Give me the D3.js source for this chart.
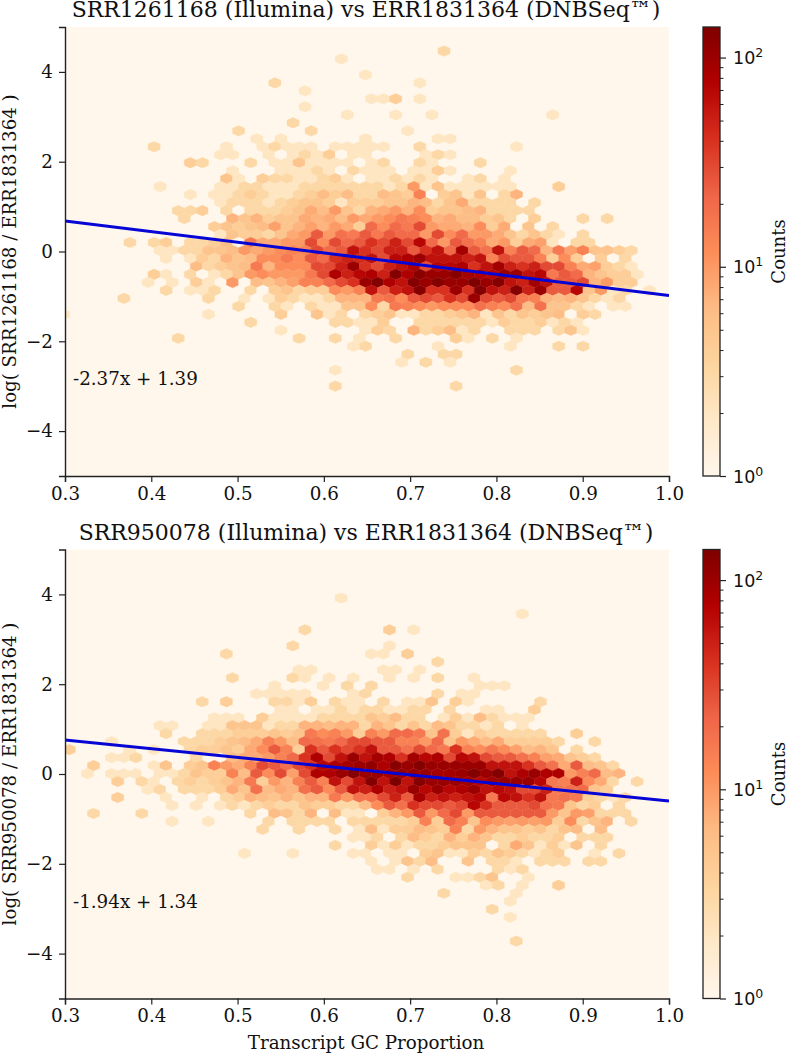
<!DOCTYPE html>
<html><head><meta charset="utf-8">
<script src="https://cdnjs.cloudflare.com/ajax/libs/d3/7.8.5/d3.min.js"></script>
<style>html,body{margin:0;padding:0;background:#fff}svg{display:block}text{font-family:"DejaVu Serif",serif;fill:#111}</style>
</head><body><svg id="c" width="787" height="1054"></svg>
<script>
// Hexbin counts. Each row: segments [firstColumnIndex, count, count, ...] (columns advance by 2).
const topRows = [
[[63,3]],[[46,2]],[],[[50,2]],[[35,3],[59,2]],[[40,2]],[[51,2,2,4],[59,2]],[[40,2]],[[47,2],[55,2],[61,2],[81,2]],[[38,3]],
[[29,3],[41,3],[57,2]],[[32,2],[36,2],[50,2],[62,2,2]],[[15,3],[27,2],[33,2,3,2,2,2],[45,2,2,2,2,2],[59,3],[75,2]],
[[26,2,2],[34,2,1,2,3,2,4,1,2,2],[60,2,3,2]],
[[21,4,3],[31,3],[35,2,2,5,2,2,2,2,1,2,3],[59,3,2],[69,3]],
[[28,2],[34,1,2,2,2,3,2,1,3,2,2,2],[58,2,2,4,2],[74,2]],
[[27,5,2],[33,4,3,3,2,2,3,4,2,1,2,2,3,2,3,2],[67,2,3],[73,2]],
[[16,2],[26,2,2,3,3,2,2,2,3,3,3,3,3,3,3,2,3,10,2,5,2,2,2,2,2,2],[82,4]],
[[21,2],[25,2,2,3,4,3,2,2,3,4,6,4,6,3,3,6,5,4,14,1,4,5,2,5,1,3,7]],
[[26,2,3,3,3,2,3,4,5,5,4,2,4,4,4,5,5,7,6,3,5,8,3,3,3,3,1,3]],
[[19,3,3,4,1,3,1,3,3,3,4,5,8,6,10,5,3,7,8,10,7,12,4,5,5,6,7,3,3,3,3]],
[[20,3],[28,7,5,7,4,5,5,8,7,8,6,10,8,10,12,16,14,12,7,8,6,6,4,5,3,1,4],[86,3],[90,3]],
[[23,1,4,5,4,5,6,9,5,7,9,7,10,8,4,20,12,20,16,30,10,8,8,7,12,4,8,1,5,1,3]],
[[26,2,5,4,4,3,5,8,10,25,10,18,16,25,16,25,20,20,10,30,12,20,10,10,8,5,3,5,3,2],[86,3]],
[[11,3],[15,3,4,1,3,3,4,6,1,16,8,8,10,10,30,12,30,20,25,40,30,50,30,70,20,10,25,18,14,8,10,4,8,9,2,1,3,3]],
[[16,2,2,3,3,5,5,6,10,8,10,12,14,14,30,20,25,60,40,30,50,50,25,40,60,20,90,25,18,60,14,25,20,7,16,9,14,5,5,4,3]],
[[17,2,1,2,4,3,7,5,6,12,12,16,12,25,20,40,50,45,60,30,70,80,100,60,60,60,50,60,14,30,25,25,14,4,12,4,1,4,1,3]],
[[22,6,3,4,5,6,16,7,12,12,12,30,30,50,100,40,30,50,60,80,30,70,70,80,40,60,90,50,40,50,30,30,14,8,9,4,3,2]],
[[15,4,2,1,3,1,2,3,5,10,12,10,10,10,16,30,80,50,70,80,50,130,80,125,100,100,125,90,80,70,100,100,60,70,16,25,20,7,5,4,4,2]],
[[14,2],[18,2],[22,4,2],[28,10,1,6,5,7,9,14,14,20,30,40,100,130,80,60,130,100,130,100,100,140,100,130,60,50,90,60,25,25,30,7,10,4,4]],
[[17,3],[21,2,2,3],[31,3,1,4,5,3,4,4,12,10,14,60,25,50,60,130,40,40,100,40,130,60,50,130,50,100,25,25,70,5,10,2,3],[97,2]],
[[10,3],[24,3],[30,2,1,2,4,3,2,2,3,7,7,7,16,18,12,25,30,25,40,30,100,30,25,30,16,14,7,6,7,5,3,2,3]],
[[29,3],[35,3,2],[41,3,2,2,5,5,12,3,16,14,12,10,12,12,12,18,14,12,18,6,18,5,5,3,2,1,2,2]],
[[0,2],[24,2],[36,4],[42,5,2,3,1,3,4,5,2,2,3,3,4,5,7,2,5,3,5,4,5,6,1,4,3]],
[[31,3],[45,3,3,2,2,4,1,1,3,3,3,3,3,3,2,4,3,3,4,2,3,2]],
[[36,2],[50,2,4,3,0,7,3,4,6,2,3],[74,3,3,3],[82,3,5,2]],
[[19,3],[39,3],[45,3],[49,2],[55,3],[65,4,2],[71,3],[75,2]],
[[48,2,3],[62,2],[74,2],[82,3],[86,3]],
[[57,3],[63,3,3]],[[56,2],[60,3],[64,2]],[[45,2],[75,3]],[],[[45,3],[65,3]]
];
const bottomRows = [
[[46,2]],[],[[76,2]],[],[[40,3],[54,4],[58,2]],[],[[38,3],[54,2]],[[27,3],[51,2,2],[57,4]],[[62,3]],[[39,2,2],[53,2,2],[59,2]],
[[28,3],[38,3,2],[44,2],[48,2],[54,2],[58,2],[62,3],[68,2]],
[[35,2],[43,2],[47,3],[51,3],[69,2,2,2]],
[[32,2,2,2,2,2],[48,2,3],[62,3],[66,2,2]],
[[23,3],[27,4],[35,3,3,2,4],[45,3,2,2,1,3],[57,2,2,5],[65,4,2],[79,3]],
[[36,2,2,1,2,2,3,2,3,3,2,2,3,3,1,3,1,1,2,2],[78,4]],
[[25,2,2,2,1,4,2,2,2,2,3,3,3,3,5,4,6,3,3,1,2,4,2,6,3,2,2,2]],
[[16,2,2],[24,2,2,5,5,5,2,3,3,7,7,6,7,7,3,7,5,3,5,3,6,5,3,3,2,3,1,2]],
[[17,3],[23,3,3,3,4,4,4,5,4,5,16,12,14,10,4,14,10,20,20,16,5,18,4,2,4,3,3,3,3,3],[85,4]],
[[8,2],[20,3,3,3,4,5,6,8,14,10,6,20,18,16,20,30,30,25,25,14,14,10,20,5,10,8,6,8,4,4,4,4,3],[88,3]],
[[1,4],[11,2],[15,2],[19,1,3,4,4,5,4,8,12,25,14,4,40,25,40,30,40,60,25,25,18,30,20,16,40,14,12,16,12,9,6,7,5],[85,3]],
[[8,2],[10,2,3],[22,3],[28,6,8,8,10,14,20,40,80,30,60,100,60,90,80,40,90,70,80,30,70,60,30,25,25,18,14,9,8,5,4,3]],
[[5,4],[15,2,5,1,4,5,14,10,8,14,30,25,18,30,40,70,80,90,100,110,80,125,100,130,100,100,100,100,100,60,60,60,40,25,18,8,25,6,5,3]],
[[4,2],[8,2,2,2,1,2,2,3,5,4,4,14,6,25,12,30,9,30,80,80,100,130,100,100,90,100,100,100,90,90,100,130,100,130,60,80,100,80,80,10,14,20,6,7]],
[[9,4],[13,3,2,1,3,4,3,4,5,7,16,4,10,7,14,25,14,60,30,60,130,60,140,60,130,100,100,100,90,70,90,100,100,100,70,16,14,50,12,8,3,1,3]],
[[14,2,3,1,3,3,3,4,8,5,18,6,8,7,18,25,12,25,60,50,80,50,60,100,70,100,70,80,100,60,70,60,30,30,50,16,18,20,5,4]],
[[9,4],[17,2,1],[23,2,1,3,4,7,6,5,7,5,7,7,16,10,18,18,30,50,25,90,50,60,50,60,70,16,70,60,40,60,16,18,16,4,3,2,3]],
[[18,2],[22,2],[26,2,3,2,3,4,3,3,5,4,4,3,3,6,12,25,18,40,30,30,25,30,70,40,25,25,25,30,18,16,5,3,4,1,3]],
[[5,3],[13,3],[31,3,1,6,5,3,7,1,6,2,2,1,4,7,10,25,10,20,30,10,25,25,25,25,25,25,10,5,10,9,3,3,3]],
[[18,2],[24,2],[34,3,1,3,3,3,3,1,3,3,3,3,3,4,14,4,20,14,5,12,10,9,10,9,10,4,12,3,5,7,1,3]],
[[33,3],[39,3],[45,3],[49,2,6,2,4,4,6,5,4,14,3,10,7,5,5,4,5,3,5,6,1,6]],
[[48,2,2,3,1,3,6,4,3,7,4,7,5,3,3,4,3,3,4,1,3,3,3]],
[[45,3],[51,4,2,4,2,3,3,4,5,5,5,1,3,8,5,2,4,2,5,1,3]],
[[30,2],[38,2],[48,2,2,1,2,2,1,4,5,2,2,4,3,5,4,3,2,3,4,1,1,2],[92,3]],
[[51,2,1,2,5,3,6,1,1,5,1,3,3,2,1,3,3,3,1,3,3]],
[[52,2,2,1,2],[62,3,1,1],[70,1,3,2,3]],
[[57,3],[65,2,2,3,5,1],[77,2]],
[[70,2,3],[76,2],[82,4]],
[[63,3],[75,2]],[[74,2]],[[71,3]],[[74,2]],[],[],[[75,3]]
];
const xTicks = [0.3,0.4,0.5,0.6,0.7,0.8,0.9,1.0];
const yTicks = [-4,-2,0,2,4];
const cbMinor = [2,3,4,5,6,7,8,9,20,30,40,50,60,70,80,90];
const cbMajor = [1,10,100];
const orRd = ["#fff7ec","#fee8c8","#fdd49e","#fdbb84","#fc8d59","#ef6548","#d7301f","#b30000","#7f0000"];
const countMax = 140;

const panels = [
 {rows:topRows, top:27, title:"SRR1261168 (Illumina) vs ERR1831364 (DNBSeq\u2122)", yl:"log( SRR1261168 / ERR1831364 )",
  slope:-2.37, icpt:1.39, fit:"-2.37x + 1.39", hexX0:0.29826, hexDx:0.0070, hexY0:4.4655, hexDy:0.17773, xlabel:null, titleY:17},
 {rows:bottomRows, top:549.5, title:"SRR950078 (Illumina) vs ERR1831364 (DNBSeq\u2122)", yl:"log( SRR950078 / ERR1831364 )",
  slope:-1.94, icpt:1.34, fit:"-1.94x + 1.34", hexX0:0.29803, hexDx:0.0070, hexY0:3.9198, hexDy:0.17773, xlabel:"Transcript GC Proportion", titleY:540}
];
const L=65,R=669,H=449, CB0=703, CB1=720;
const svg = d3.select("#c");
const defs = svg.append("defs");
const colT = d3.scaleLinear().domain(orRd.map((_,i)=>i/8)).range(orRd).interpolate(d3.interpolateRgb);
const logN = d3.scaleLog().domain([1,countMax]).range([0,1]);
const grad = defs.append("linearGradient").attr("id","cbg").attr("x1",0).attr("x2",0).attr("y1",1).attr("y2",0);
d3.range(0,1.0001,0.02).forEach(t=>grad.append("stop").attr("offset",t).attr("stop-color",colT(t)));

panels.forEach((p,pi)=>{
  const B=p.top+H;
  const x=d3.scaleLinear().domain([0.3,1.0]).range([L,R]);
  const y=d3.scaleLinear().domain([-5,5]).range([B,p.top]);
  const g=svg.append("g");
  const clipId="clip"+pi;
  defs.append("clipPath").attr("id",clipId).append("rect").attr("x",L).attr("y",p.top).attr("width",R-L).attr("height",H);
  g.append("rect").attr("x",L).attr("y",p.top).attr("width",R-L).attr("height",H).attr("fill",orRd[0]);
  const cells=[];
  p.rows.forEach((segs,r)=>segs.forEach(s=>s.slice(1).forEach((c,i)=>{ if(c>0) cells.push({k:s[0]+2*i,r,c}); })));
  const hw=Math.abs(x(p.hexDx)-x(0));
  const rowH=Math.abs(y(p.hexDy)-y(0));
  const hex=(d)=>{
    const cx=x(p.hexX0+d.k*p.hexDx), cy=y(p.hexY0-d.r*p.hexDy);
    const a=rowH*2/3, b=rowH/3;
    return `M${cx},${cy-a}L${cx+hw},${cy-b}L${cx+hw},${cy+b}L${cx},${cy+a}L${cx-hw},${cy+b}L${cx-hw},${cy-b}Z`;
  };
  const hg=g.append("g").attr("clip-path",`url(#${clipId})`);
  hg.selectAll("path.hex").data(cells).join("path").attr("class","hex").attr("d",hex)
    .attr("fill",d=>colT(logN(d.c))).attr("stroke",d=>colT(logN(d.c))).attr("stroke-width",0.4);
  const fitLine=d3.line().x(d=>x(d)).y(d=>y(p.slope*d+p.icpt));
  hg.append("path").attr("d",fitLine([0.3,1.0])).attr("fill","none").attr("stroke","#0505d6").attr("stroke-width",3);

  const ax=g.append("g").attr("transform",`translate(0,${B})`).call(d3.axisBottom(x).tickValues(xTicks).tickFormat(d3.format(".1f")).tickSize(6).tickPadding(5));
  const ay=g.append("g").attr("transform",`translate(${L},0)`).call(d3.axisLeft(y).tickValues(yTicks).tickFormat(d=>String(d).replace("-","\u2212")).tickSize(6).tickPadding(6));
  [ax,ay].forEach(a=>{a.selectAll("text").style("font-size","18.3px").style("font-family",'"DejaVu Serif",serif');
    a.selectAll("line").attr("stroke","#222").attr("stroke-width",1.2);
    a.select(".domain").attr("stroke","#222").attr("stroke-width",1.4);});

  g.append("text").attr("x",366).attr("y",p.titleY).attr("text-anchor","middle").style("font-size","22px").text(p.title);
  g.append("text").attr("transform",`translate(16,${p.top+H/2}) rotate(-90)`).attr("text-anchor","middle").style("font-size","18.2px").text(p.yl);
  g.append("text").attr("x",73).attr("y",p.top+358).style("font-size","18.3px").text(p.fit);
  if(p.xlabel) g.append("text").attr("x",366).attr("y",1049).attr("text-anchor","middle").style("font-size","18.3px").text(p.xlabel);

  // colour bar
  const cy=d3.scaleLog().domain([1,countMax]).range([B,p.top]);
  g.append("rect").attr("x",CB0).attr("y",p.top).attr("width",CB1-CB0).attr("height",H).attr("fill","url(#cbg)").attr("stroke","#222").attr("stroke-width",1.3);
  const cm=g.append("g").attr("transform",`translate(${CB1},0)`).call(d3.axisRight(cy).tickValues(cbMinor).tickFormat("").tickSize(3.5));
  cm.select(".domain").remove(); cm.selectAll("line").attr("stroke","#222").attr("stroke-width",1);
  const cM=g.append("g").attr("transform",`translate(${CB1},0)`).call(d3.axisRight(cy).tickValues(cbMajor).tickFormat("").tickSize(6));
  cM.select(".domain").remove(); cM.selectAll("line").attr("stroke","#222").attr("stroke-width",1.2);
  cM.selectAll(".tick").each(function(d){
    const t=d3.select(this).append("text").attr("x",13).attr("y",6).attr("fill","#111").attr("text-anchor","start")
      .style("font-family",'"DejaVu Sans",sans-serif').style("font-size","17.5px");
    t.append("tspan").text("10");
    t.append("tspan").attr("dy",-7).style("font-size","12.5px").text(Math.round(Math.log10(d)));
  });
  g.append("text").attr("transform",`translate(785.5,${p.top+H/2}) rotate(-90)`).attr("text-anchor","middle").style("font-size","18px").attr("dy",-1).text("Counts");
});
</script></body></html>
